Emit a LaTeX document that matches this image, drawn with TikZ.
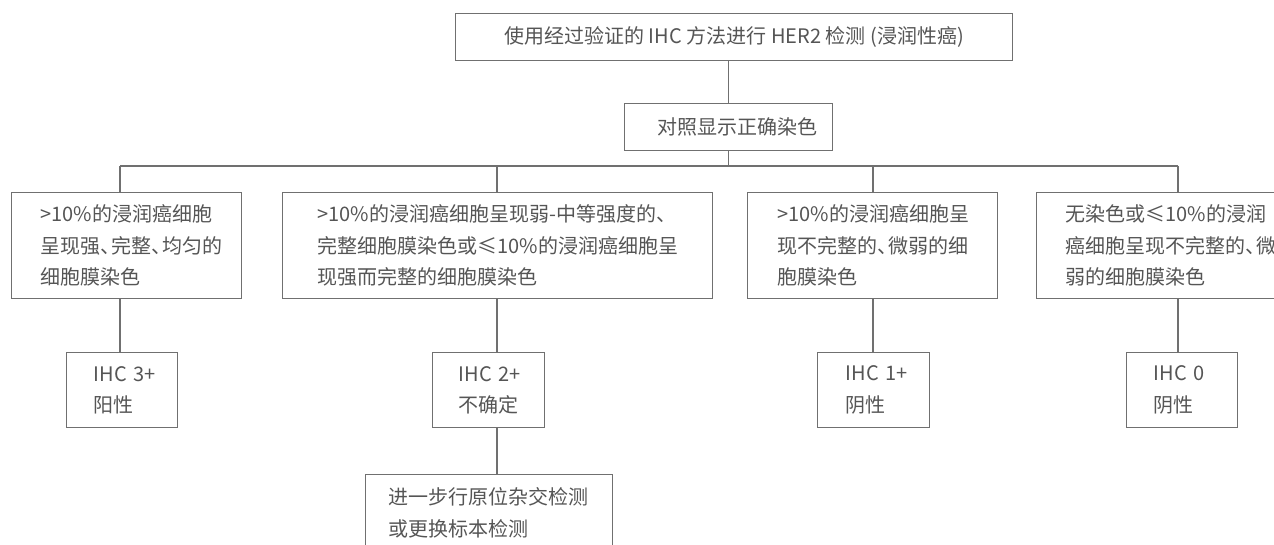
\documentclass[tikz,border=0pt]{standalone}
\usepackage{fontspec}
\setmainfont{Noto Sans CJK SC}
\definecolor{linec}{HTML}{707070}
\definecolor{textc}{HTML}{555555}
\newcommand{\dunhao}{、\kern-0.45em}
\begin{document}
\begin{tikzpicture}[x=1pt,y=-1pt,
  box/.style={draw=linec, line width=1.3pt, anchor=north west, rectangle, align=left,
    inner ysep=0pt, text=textc, font=\fontsize{20}{31.5}\selectfont},
  conn/.style={draw=linec, line width=1.3pt}]
\useasboundingbox (0,0) rectangle (1274,545);
\clip (0,0) rectangle (1274,545);
% top
\node[box, align=center, minimum width=557pt, minimum height=47pt, inner xsep=0pt] (top) at (455,13)
  {使用经过验证的 IHC 方法进行 HER2 检测 (浸润性癌)};
\node[box, align=left, text width=162pt, inner xsep=23pt, minimum height=47pt] (ctrl) at (624,103)
  {\hspace*{10pt}对照显示正确染色};
% level 1
\node[box, text width=172pt, inner xsep=29pt, minimum height=106pt] (b1) at (11,192)
  {>10\%的浸润癌细胞\\呈现强\dunhao 完整\dunhao 均匀的\\细胞膜染色};
\node[box, text width=360pt, inner xsep=35pt, minimum height=106pt] (b2) at (282,192)
  {>10\%的浸润癌细胞呈现弱-中等强度的、\\完整细胞膜染色或≤10\%的浸润癌细胞呈\\现强而完整的细胞膜染色};
\node[box, text width=190pt, inner xsep=30pt, minimum height=106pt] (b3) at (747,192)
  {>10\%的浸润癌细胞呈\\现不完整的\dunhao 微弱的细\\胞膜染色};
\node[box, text width=242pt, inner xsep=29pt, minimum height=106pt] (b4) at (1036,192)
  {无染色或≤10\%的浸润\\癌细胞呈现不完整的\dunhao 微\\弱的细胞膜染色};
% level 2
\node[box, text width=57pt, inner xsep=27pt, minimum height=75pt] (i3) at (66,352)
  {IHC~3+\\阳性};
\node[box, text width=60pt, inner xsep=26pt, minimum height=75pt] (i2) at (432,352)
  {IHC~2+\\不确定};
\node[box, text width=56pt, inner xsep=28pt, minimum height=75pt] (i1) at (817,352)
  {IHC~1+\\阴性};
\node[box, text width=57pt, inner xsep=27pt, minimum height=75pt] (i0) at (1126,352)
  {IHC~0\\阴性};
% level 3
\node[box, text width=201pt, inner xsep=23pt, minimum height=76pt] (fu) at (365,474)
  {进一步行原位杂交检测\\或更换标本检测};
% connectors
\coordinate (L1) at (120,166);
\coordinate (L2) at (497,166);
\coordinate (L3) at (873,166);
\coordinate (L4) at (1178,166);
\draw[conn] (top.south -| ctrl.north) -- (ctrl.north);
\draw[conn] (ctrl.south) -- (ctrl.south |- L1);
\draw[conn] (L1) -- (L4);
\draw[conn] (L1) -- (L1 |- b1.north);
\draw[conn] (L2) -- (L2 |- b2.north);
\draw[conn] (L3) -- (L3 |- b3.north);
\draw[conn] (L4) -- (L4 |- b4.north);
\draw[conn] (L1 |- b1.south) -- (L1 |- i3.north);
\draw[conn] (L2 |- b2.south) -- (L2 |- i2.north);
\draw[conn] (L3 |- b3.south) -- (L3 |- i1.north);
\draw[conn] (L4 |- b4.south) -- (L4 |- i0.north);
\draw[conn] (L2 |- i2.south) -- (L2 |- fu.north);
\end{tikzpicture}
\end{document}
